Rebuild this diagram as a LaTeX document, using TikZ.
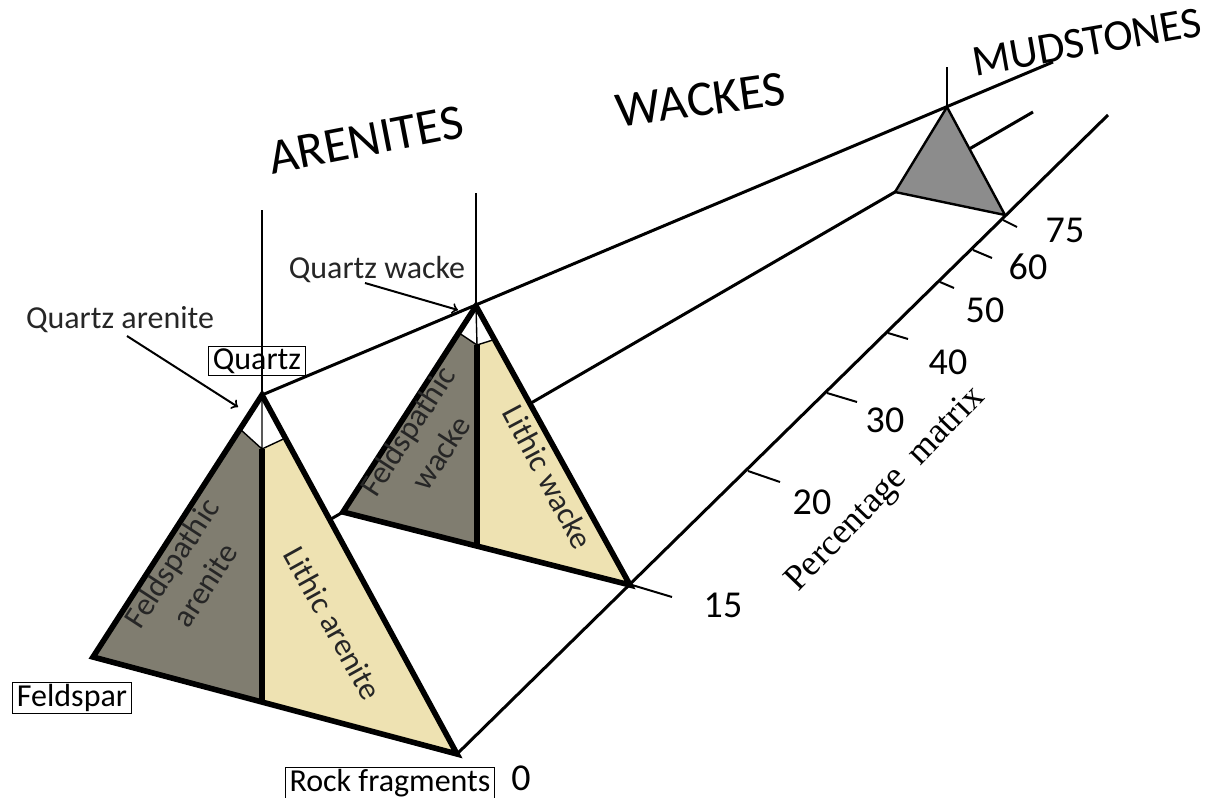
\documentclass[tikz,border=0pt]{standalone}
\usepackage{fontspec}
\setmainfont{Carlito}
\newfontfamily\serifaxis{Liberation Serif}
\usetikzlibrary{calc}
\definecolor{feldgray}{RGB}{128,125,112}
\definecolor{lithyel}{RGB}{238,226,178}
\definecolor{mudgray}{RGB}{140,140,140}
\begin{document}
\begin{tikzpicture}[x=0.5pt,y=-0.5pt,
 rail/.style={line width=1.5pt},
 edge/.style={line width=2.8pt,line join=miter},
 hair/.style={line width=0.7pt},
 boxlab/.style={draw,line width=0.5pt,inner xsep=2pt,inner ysep=1pt,font=\fontsize{16}{16}\selectfont},
 lab/.style={font=\fontsize{16}{20}\selectfont,align=center,text=black!85},
 big/.style={font=\fontsize{25}{25}\selectfont},
 num/.style={font=\fontsize{19}{19}\selectfont}]
\useasboundingbox (0,0) rectangle (1217,798);
% corners
\coordinate (Q1) at (262,395);
\coordinate (F1) at (93,657);
\coordinate (R1) at (457,754);
\coordinate (M1) at (262,701);
\coordinate (Q2) at (476,306);
\coordinate (F2) at (343,512);
\coordinate (R2) at (630,585);
\coordinate (M2) at (477,546);
\coordinate (Q3) at (947,107);
\coordinate (F3) at (895,192);
\coordinate (R3) at (1005,215);
\coordinate (Qend) at (1053,62);
\coordinate (Fend) at (1033,112);
\coordinate (Rend) at (1108,115);
% long lines
\draw[rail] (Q1) -- (Qend);
\draw[rail] (F1) -- (Fend);
\draw[rail] (R1) -- (Rend);
\draw[hair] (262,210) -- (Q1);
\draw[hair] (476,193) -- (Q2);
\draw[hair] (947,67) -- (Q3);
% mudstones
\filldraw[fill=mudgray,line width=1.2pt,line join=round] (Q3) -- (F3) -- (R3) -- cycle;
% wackes
\fill[white] (Q2) -- (F2) -- (R2) -- cycle;
\coordinate (L2) at ($(Q2)!0.13!(F2)$);
\coordinate (K2) at ($(Q2)!0.12!(R2)$);
\coordinate (B2) at (477,345);
\fill[feldgray] (F2) -- (L2) -- (B2) -- (M2) -- cycle;
\fill[lithyel] (M2) -- (B2) -- (K2) -- (R2) -- cycle;
\draw[hair] (L2) -- (B2) -- (K2) (Q2) -- (B2);
\draw[edge] (B2) -- (M2);
\draw[edge] (Q2) -- (F2) -- (R2) -- cycle;
% arenites
\fill[white] (Q1) -- (F1) -- (R1) -- cycle;
\coordinate (L1) at ($(Q1)!0.13!(F1)$);
\coordinate (K1) at ($(Q1)!0.12!(R1)$);
\coordinate (B1) at (262,449);
\fill[feldgray] (F1) -- (L1) -- (B1) -- (M1) -- cycle;
\fill[lithyel] (M1) -- (B1) -- (K1) -- (R1) -- cycle;
\draw[hair] (L1) -- (B1) -- (K1) (Q1) -- (B1);
\draw[edge] (B1) -- (M1);
\draw[edge] (Q1) -- (F1) -- (R1) -- cycle;
% labels in the fields
\node[lab,rotate=57] (fa) at (188,574) {Feldspathic\\arenite};
\node[lab,rotate=-61] (la) at (333,623) {Lithic arenite};
\node[lab,rotate=57] (fw) at (424,442) {Feldspathic\\wacke};
\node[lab,rotate=-62] (lw) at (548,477) {Lithic wacke};
% end members
\node[boxlab] (qz) at (257,361) {Quartz};
\node[boxlab] (fs) at (72,698) {Feldspar};
\node[boxlab] (rf) at (390,783) {Rock fragments};
\node[num] (zero) at (521,778) {0};
% arrows
\node[lab] (qa) at (120,320) {Quartz arenite};
\node[lab] (qw) at (377,270) {Quartz wacke};
\coordinate (qaTip) at (238,407);
\coordinate (qwTip) at (458,310);
\draw[line width=1pt,->] (127,336) -- (qaTip);
\draw[line width=1pt,->] (365,283) -- (qwTip);
% headings
\node[big,rotate=11] (aren) at (366,140) {ARENITES};
\node[big,rotate=8] (wack) at (701,100) {WACKES};
\node[font=\fontsize{22}{22}\selectfont,rotate=10] (mud) at (1087,42) {MUDSTONES};
% matrix axis
\foreach \x/\y/\dx/\dy in {632/585/40/12, 748/471/32/11, 827/393/30/9, 888/333/20/6, 940/282/14/6, 973/250/19/8, 1003/220/14/7}
 \draw[hair,line width=1pt] (\x,\y) -- ++(\dx,\dy);
\node[num] (n15) at (723,605) {15};
\node[num] (n20) at (812,502) {20};
\node[num] (n30) at (885,420) {30};
\node[num] (n40) at (948,362) {40};
\node[num] (n50) at (985,310) {50};
\node[num] (n60) at (1028,267) {60};
\node[num] (n75) at (1065,230) {75};
\node[font=\serifaxis\fontsize{18}{18}\selectfont,rotate=46] (pm) at (886,490) {Percentage\ \ matrix};
\end{tikzpicture}
\end{document}
